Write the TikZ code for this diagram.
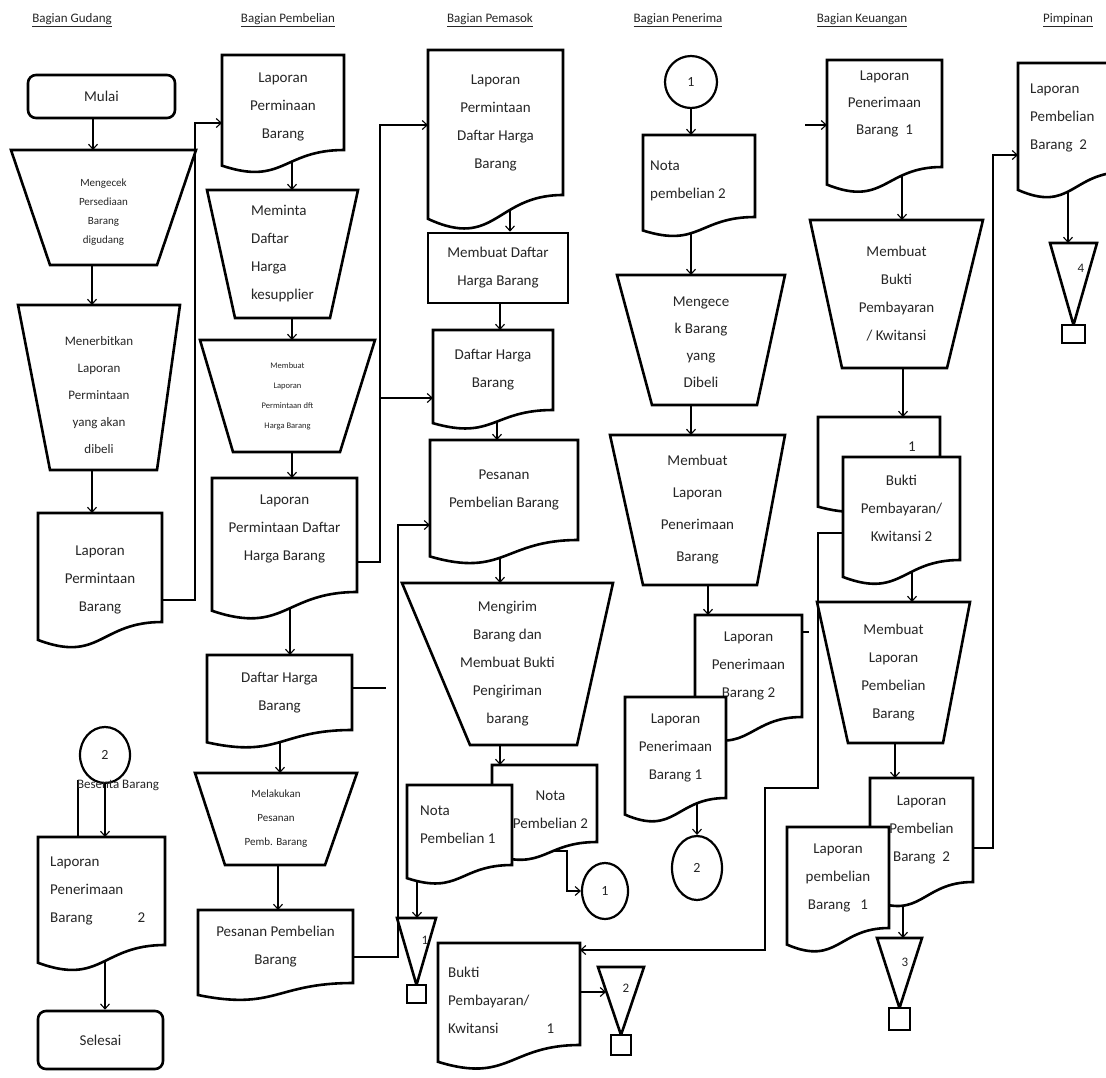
\documentclass[tikz,border=0pt]{standalone}
\usepackage{fontspec}
\setmainfont{Carlito}
\usetikzlibrary{arrows.meta,shapes.geometric,calc}
\pgfdeclarelayer{bg}
\pgfsetlayers{bg,main}
\tikzset{
 shp/.style={draw=black, line width=2.6pt, fill=white, line join=miter},
 box/.style={draw=none, rectangle, inner sep=0pt, outer sep=0pt},
 txt/.style={align=center, inner sep=0pt, text=black!85, font=\fontsize{15}{28}\selectfont},
 hdr/.style={inner sep=0pt, text=black!85, font=\fontsize{13}{15}\selectfont},
 term/.style={txt, draw=black, line width=2.6pt, rounded corners=8pt, fill=white, rectangle},
 proc/.style={txt, draw=black, line width=2.6pt, fill=white, rectangle},
 conn/.style={draw=black, line width=2.2pt, fill=white, ellipse, inner sep=0pt, text=black!85, font=\fontsize{14}{16}\selectfont},
 ln/.style={draw=black, line width=1.1pt},
 arr/.style={ln, -{Straight Barb[length=5pt,width=9pt]}},
}
% document shape: [text opts]{name}{x1}{y1}{x2}{y bottom right}{text}
\newcommand{\docn}[7][]{%
  \pgfmathsetmacro{\zzH}{(#6-#4)/0.802}%
  \pgfmathsetmacro{\zzXm}{(#3+#5)/2}%
  \pgfmathsetmacro{\zzYl}{#4+1.107*\zzH}%
  \pgfmathsetmacro{\zzYe}{#4+0.934*\zzH}%
  \pgfmathsetmacro{\zzW}{#5-#3}%
  \pgfmathsetmacro{\zzHH}{#6-#4}%
  \draw[shp] (#3,#4) -- (#5,#4) -- (#5,#6) .. controls (\zzXm,#6) and (\zzXm,\zzYl) .. (#3,\zzYe) -- cycle;
  \node[box, minimum width=\zzW, minimum height=\zzHH] (#2) at (\zzXm,{(#4+#6)/2}) {};
  \node[txt,#1] (#2-t) at (#2.center) {#7};
}
% trapezoid: [text opts]{name}{ytop}{ybot}{xtl}{xtr}{xbl}{xbr}{text}
\newcommand{\trapn}[9][]{%
  \draw[shp] (#5,#3) -- (#6,#3) -- (#8,#4) -- (#7,#4) -- cycle;
  \pgfmathsetmacro{\zzW}{#6-#5}%
  \pgfmathsetmacro{\zzHH}{#4-#3}%
  \node[box, minimum width=\zzW, minimum height=\zzHH] (#2) at ({(#5+#6)/2},{(#3+#4)/2}) {};
  \node[txt,#1] (#2-t) at (#2.center) {#9};
}
\newcommand{\varrow}[3]{\coordinate (tmpx) at (#3,0); \draw[arr] (#1 -| tmpx) -- (#2 -| tmpx);}
\begin{document}
\begin{tikzpicture}[x=1pt,y=-1pt]
\useasboundingbox (0,0) rectangle (1106,1077);
\begin{pgfonlayer}{bg}
\fill[white] (0,0) rectangle (1106,1077);
\end{pgfonlayer}

% headers
\node[hdr] (h1) at (72,20) {\underline{Bagian Gudang}};
\node[hdr] (h2) at (288,20) {\underline{Bagian Pembelian}};
\node[hdr] (h3) at (490,20) {\underline{Bagian Pemasok}};
\node[hdr] (h4) at (678,20) {\underline{Bagian Penerima}};
\node[hdr] (h5) at (862,20) {\underline{Bagian Keuangan}};
\node[hdr] (h6) at (1068,20) {\underline{Pimpinan}};

% column 1: Gudang
\node[term, minimum width=147, minimum height=43] (start) at (101.5,96.5) {Mulai};
\trapn[font=\fontsize{11}{19}\selectfont, yshift=-5pt]{g1}{150}{265}{11}{196}{50}{157}{Mengecek\\Persediaan\\Barang\\digudang}
\trapn[font=\fontsize{13}{27}\selectfont, yshift=-8pt]{g2}{305}{470}{18}{180}{50}{157}{Menerbitkan\\Laporan\\Permintaan\\yang akan\\dibeli}
\docn[yshift=-12pt]{g3}{38}{513}{162}{622}{Laporan\\Permintaan\\Barang}
\node[conn, minimum width=50, minimum height=56] (g4) at (105,755) {2};
\node[txt, font=\fontsize{13}{16}\selectfont] (g5) at (118,785) {Besenta Barang};
\docn[align=left, anchor=west, xshift=-51.5pt]{g6}{38}{837}{165}{945}{Laporan\\Penerimaan\\Barang\hspace{45pt}2}
\node[term, minimum width=125, minimum height=58] (end) at (100.5,1040) {Selesai};

% column 2: Pembelian
\docn[yshift=-4pt]{b1}{222}{55}{344}{150}{Laporan\\Perminaan\\Barang}
\trapn[align=left]{b2}{190}{318}{207}{358}{235}{330}{Meminta\\Daftar\\Harga\\kesupplier}
\trapn[font=\fontsize{8.5}{20}\selectfont]{b3}{340}{452}{200}{375}{233}{340}{Membuat\\Laporan\\Permintaan dft\\Harga Barang}
\docn[yshift=6pt]{b4}{212}{478}{357}{592}{Laporan\\Permintaan Daftar\\Harga Barang}
\docn{b5}{207}{655}{352}{730}{Daftar Harga\\Barang}
\trapn[font=\fontsize{11}{24}\selectfont]{b6}{773}{865}{195}{357}{225}{325}{Melakukan\\Pesanan\\Pemb. Barang}
\docn{b7}{198}{910}{353}{983}{Pesanan Pembelian\\Barang}

% column 3: Pemasok
\docn{s1}{428}{50}{563}{195}{Laporan\\Permintaan\\Daftar Harga\\Barang}
\node[proc, minimum width=140, minimum height=70] (s2) at (498,268) {Membuat Daftar\\Harga Barang};
\docn{s3}{433}{330}{553}{410}{Daftar Harga\\Barang}
\docn{s4}{430}{440}{578}{540}{Pesanan\\Pembelian Barang}
\trapn{s5}{583}{745}{402}{613}{470}{577}{Mengirim\\Barang dan\\Membuat Bukti\\Pengiriman\\barang}
\docn[xshift=6pt,yshift=-6pt]{s6}{492}{765}{597}{842}{Nota\\Pembelian 2}
\docn[align=left, anchor=west, xshift=-39.5pt]{s7}{407}{785}{512}{865}{Nota\\Pembelian 1}
\node[conn, minimum width=46, minimum height=56] (s9) at (605,891) {1};
\draw[shp] (397,918) -- (436,918) -- (416.5,985) -- cycle;
\draw[shp] (407,985) rectangle (426,1003);
\node[box, minimum width=39, minimum height=67] (m1) at (416.5,951.5) {};
\node[txt, font=\fontsize{13}{15}\selectfont] (m1-t) at (425,940) {1};
\docn[align=left, anchor=west, xshift=-61pt, yshift=-6pt]{s10}{438}{943}{580}{1045}{Bukti\\Pembayaran/\\Kwitansi\hspace{48pt}1}
\draw[shp] (598,967) -- (644,967) -- (621,1035) -- cycle;
\draw[shp] (611,1035) rectangle (631,1055);
\node[box, minimum width=46, minimum height=68] (m2) at (621,1001) {};
\node[txt, font=\fontsize{13}{15}\selectfont] (m2-t) at (626,988) {2};

% column 4: Penerima
\node[conn, minimum width=52, minimum height=52] (r0) at (691,82) {1};
\docn[align=left, anchor=west, xshift=-49pt, yshift=-5pt]{r1}{643}{135}{755}{217}{Nota\\pembelian 2}
\trapn[font=\fontsize{15}{27}\selectfont, yshift=-2pt]{r2}{275}{405}{617}{785}{652}{757}{Mengece\\k Barang\\yang\\Dibeli}
\trapn[font=\fontsize{15}{32}\selectfont]{r3}{435}{585}{610}{785}{643}{757}{Membuat\\Laporan\\Penerimaan\\Barang}
\docn{r4}{695}{615}{802}{717}{Laporan\\Penerimaan\\Barang 2}
\docn{r5}{625}{697}{726}{798}{Laporan\\Penerimaan\\Barang 1}
\node[conn, minimum width=50, minimum height=64] (r6) at (697,868) {2};

% column 5: Keuangan
\docn[font=\fontsize{15}{27}\selectfont, yshift=10pt]{k1}{827}{60}{942}{167}{Laporan\\Penerimaan\\Barang\ \ 1}
\trapn{k2}{220}{368}{810}{983}{842}{947}{Membuat\\Bukti\\Pembayaran\\/ Kwitansi}
\docn[xshift=33pt, yshift=9pt]{k3}{818}{417}{940}{494}{1}
\docn{k4}{843}{457}{960}{560}{Bukti\\Pembayaran/\\Kwitansi 2}
\trapn{k5}{602}{743}{817}{970}{848}{943}{Membuat\\Laporan\\Pembelian\\Barang}
\docn{k6}{870}{778}{973}{882}{Laporan\\Pembelian\\Barang\ \ 2}
\docn{k7}{787}{827}{889}{928}{Laporan\\pembelian\\Barang\ \ \ 1}
\draw[shp] (877,938) -- (922,938) -- (899.5,1008) -- cycle;
\draw[shp] (889,1008) rectangle (910,1030);
\node[box, minimum width=45, minimum height=70] (m3) at (899.5,973) {};
\node[txt, font=\fontsize{13}{15}\selectfont] (m3-t) at (905,962) {3};

% Pimpinan
\docn[align=left, anchor=west, xshift=-41.5pt]{q1}{1018}{63}{1125}{172}{Laporan\\Pembelian\\Barang\ \ 2}
\draw[shp] (1050,243) -- (1097,243) -- (1073.5,325) -- cycle;
\draw[shp] (1062,325) rectangle (1085,343);
\node[box, minimum width=47, minimum height=82] (m4) at (1073.5,284) {};
\node[txt, font=\fontsize{13}{15}\selectfont] (m4-t) at (1081,268) {4};

% connectors
\begin{pgfonlayer}{bg}
\varrow{start.south}{g1.north}{93}
\varrow{g1.south}{g2.north}{92}
\varrow{g2.south}{g3.north}{92}
\varrow{g4.south}{g6.north}{105}
\coordinate (j0) at (78,780);
\draw[ln] (j0) -- (g6.north -| j0);
\varrow{g6.south}{end.north}{105}
\coordinate (j1) at (195,600); \coordinate (j2) at (195,123);
\draw[arr] (g3.east |- j1) -- (j1) -- (j2) -- (b1.west |- j2);

\varrow{b1.south}{b2.north}{292}
\varrow{b2.south}{b3.north}{292}
\varrow{b3.south}{b4.north}{292}
\varrow{b4.south}{b5.north}{290}
\varrow{b5.south}{b6.north}{280}
\varrow{b6.south}{b7.north}{278}
\coordinate (j3) at (380,562); \coordinate (j4) at (380,125);
\draw[arr] (b4.east |- j3) -- (j3) -- (j4) -- (s1.west |- j4);
\coordinate (j5) at (380,398);
\draw[arr] (j5) -- (s3.west |- j5);
\coordinate (j6) at (386,688);
\draw[ln] (b5.east |- j6) -- (j6);
\coordinate (j7) at (398,957); \coordinate (j8) at (398,525);
\draw[arr] (b7.east |- j7) -- (j7) -- (j8) -- (s4.west |- j8);

\varrow{s1.south}{s2.north}{510}
\varrow{s2.south}{s3.north}{500}
\varrow{s3.south}{s4.north}{497}
\varrow{s4.south}{s5.north}{500}
\varrow{s5.south}{s6.north}{500}
\varrow{s7.south}{m1.north}{417}
\coordinate (j9) at (567,851);
\draw[arr] (s6.center |- j9) -- (j9) |- (s9.west);
\coordinate (m2in) at (606,992);
\draw[arr] (s10.east |- m2in) -- (m2in);

\varrow{r0.south}{r1.north}{691}
\varrow{r1.south}{r2.north}{691}
\varrow{r2.south}{r3.north}{691}
\varrow{r3.south}{r4.north}{708}
\varrow{r5.south}{r6.north}{697}
\coordinate (t1) at (796,632); \coordinate (t2) at (809,632);
\draw[ln] (t1) -- (t2);

\coordinate (k0) at (805,125);
\draw[arr] (k0) -- (k1.west |- k0);
\varrow{k1.south}{k2.north}{902}
\varrow{k2.south}{k3.north}{903}
\varrow{k4.south}{k5.north}{912}
\varrow{k5.south}{k6.north}{895}
\varrow{k6.south}{m3.north}{903}
\coordinate (j10) at (818,533); \coordinate (j11) at (818,788);
\coordinate (j12) at (765,788); \coordinate (j13) at (765,950);
\draw[arr] (k4.west |- j10) -- (j10) -- (j11) -- (j12) -- (j13) -- (s10.east |- j13);
\coordinate (j14) at (993,848); \coordinate (j15) at (993,155);
\draw[arr] (k6.east |- j14) -- (j14) -- (j15) -- (q1.west |- j15);
\varrow{q1.south}{m4.north}{1068}
\end{pgfonlayer}
\end{tikzpicture}
\end{document}
